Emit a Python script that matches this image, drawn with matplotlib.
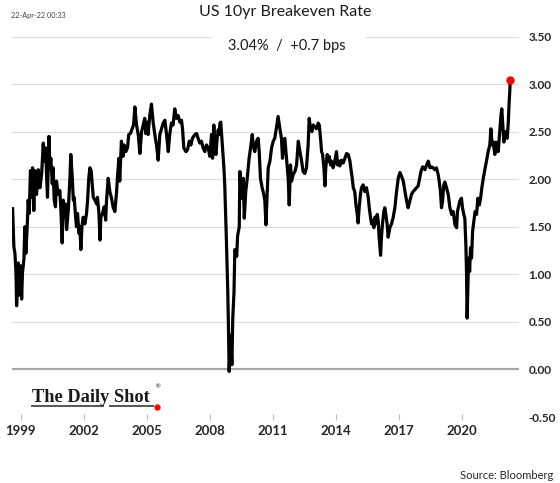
import numpy as np
import matplotlib as mpl
mpl.use('Agg')
import matplotlib.pyplot as plt
from matplotlib.lines import Line2D

# US 10yr breakeven rate (year as decimal, value in %)
dates = [
    1998.62, 1998.68, 1998.73, 1998.78, 1998.81, 1998.89, 1998.93, 1999.00, 1999.05, 1999.09,
    1999.16, 1999.20, 1999.25, 1999.32, 1999.36, 1999.41, 1999.47, 1999.52, 1999.57, 1999.63,
    1999.68, 1999.76, 1999.84, 1999.92, 2000.00, 2000.08, 2000.12, 2000.19, 2000.24, 2000.28,
    2000.35, 2000.39, 2000.44, 2000.51, 2000.55, 2000.60, 2000.66, 2000.71, 2000.79, 2000.87,
    2000.92, 2000.98, 2001.03, 2001.08, 2001.14, 2001.19, 2001.27, 2001.35, 2001.39, 2001.46,
    2001.51, 2001.55, 2001.62, 2001.66, 2001.71, 2001.78, 2001.82, 2001.87, 2001.92, 2001.98,
    2002.06, 2002.14, 2002.19, 2002.25, 2002.30, 2002.36, 2002.41, 2002.46, 2002.54, 2002.62,
    2002.66, 2002.73, 2002.78, 2002.82, 2002.90, 2002.98, 2003.05,
    2003.09, 2003.17, 2003.25, 2003.33, 2003.41, 2003.49, 2003.57, 2003.61, 2003.68, 2003.72,
    2003.80, 2003.88, 2003.93, 2004.01, 2004.09, 2004.15, 2004.23, 2004.31, 2004.38, 2004.44,
    2004.52, 2004.60, 2004.68, 2004.76, 2004.84, 2004.91, 2004.96, 2005.03, 2005.07, 2005.15,
    2005.23, 2005.31, 2005.39, 2005.47, 2005.55, 2005.63, 2005.71, 2005.79, 2005.87, 2005.95,
    2006.03, 2006.10, 2006.18, 2006.26, 2006.34, 2006.42, 2006.50, 2006.58, 2006.66, 2006.71,
    2006.77, 2006.87, 2006.95, 2007.03, 2007.11, 2007.18, 2007.30, 2007.38, 2007.45, 2007.53,
    2007.61, 2007.69, 2007.77, 2007.85, 2007.93, 2008.01,
    2008.09, 2008.14, 2008.20, 2008.25, 2008.30, 2008.36, 2008.41, 2008.45, 2008.49, 2008.53,
    2008.57, 2008.61, 2008.68, 2008.72, 2008.77, 2008.80, 2008.84, 2008.86, 2008.89, 2008.93,
    2009.00, 2009.06, 2009.10, 2009.16, 2009.20, 2009.29, 2009.33, 2009.41,
    2009.44, 2009.52, 2009.60, 2009.65, 2009.72, 2009.79, 2009.88, 2009.95, 2010.03, 2010.07,
    2010.15, 2010.23, 2010.31, 2010.36, 2010.42, 2010.50, 2010.58, 2010.63, 2010.68, 2010.74,
    2010.79, 2010.87, 2010.95, 2011.03, 2011.10, 2011.18, 2011.26, 2011.34, 2011.42, 2011.47,
    2011.53, 2011.58, 2011.66, 2011.74, 2011.79, 2011.85, 2011.90, 2011.98, 2012.06, 2012.14,
    2012.22, 2012.30, 2012.38, 2012.45, 2012.53, 2012.61, 2012.69, 2012.74, 2012.80, 2012.87,
    2012.93,
    2013.09, 2013.17, 2013.22, 2013.28, 2013.33, 2013.38, 2013.44, 2013.49, 2013.53, 2013.60,
    2013.64, 2013.69, 2013.76, 2013.80, 2013.88, 2013.96, 2014.04, 2014.09, 2014.15, 2014.20,
    2014.28, 2014.36, 2014.44, 2014.52, 2014.60, 2014.68, 2014.72, 2014.79, 2014.84, 2014.91,
    2014.96, 2015.03, 2015.07, 2015.12, 2015.18, 2015.23, 2015.31, 2015.39, 2015.47, 2015.55,
    2015.60, 2015.66, 2015.71, 2015.76, 2015.82, 2015.87, 2015.91, 2015.98, 2016.03, 2016.07,
    2016.14, 2016.18, 2016.23, 2016.30, 2016.34, 2016.39, 2016.45, 2016.50, 2016.58, 2016.66,
    2016.74, 2016.82, 2016.90, 2016.98, 2017.06, 2017.14, 2017.22, 2017.30, 2017.38, 2017.45,
    2017.53, 2017.61, 2017.69, 2017.77, 2017.85, 2017.93,
    2018.06, 2018.14, 2018.20, 2018.25, 2018.33, 2018.41, 2018.49, 2018.57, 2018.64, 2018.72,
    2018.80, 2018.88, 2018.93, 2018.99, 2019.04, 2019.09, 2019.15, 2019.20, 2019.28, 2019.36,
    2019.44, 2019.52, 2019.60, 2019.68, 2019.76, 2019.80, 2019.87, 2019.91, 2019.99, 2020.04,
    2020.10, 2020.15, 2020.20, 2020.23, 2020.25, 2020.26, 2020.30, 2020.33, 2020.38, 2020.42,
    2020.47, 2020.52, 2020.58, 2020.64, 2020.71, 2020.77, 2020.84, 2020.90, 2020.96, 2021.03,
    2021.11, 2021.18, 2021.26, 2021.34, 2021.39, 2021.45, 2021.50, 2021.58, 2021.63, 2021.69,
    2021.74, 2021.82, 2021.87, 2021.91, 2021.96, 2022.01, 2022.06, 2022.11, 2022.17, 2022.22,
    2022.26, 2022.29, 2022.31,
]
rate = [
    1.69, 1.29, 1.22, 1.02, 0.67, 1.12, 0.78, 1.09, 0.74, 1.02,
    1.16, 1.50, 1.22, 1.53, 1.78, 1.64, 2.09, 1.81, 2.12, 1.67,
    2.09, 1.84, 2.10, 1.91, 2.05, 2.38, 2.19, 2.33, 2.02, 1.81,
    2.45, 2.12, 2.22, 1.95, 2.12, 1.78, 1.71, 1.98, 1.84, 1.88,
    1.67, 1.33, 1.78, 1.60, 1.74, 1.47, 1.67, 2.02, 2.26, 2.02,
    1.78, 1.81, 1.60, 1.50, 1.64, 1.43, 1.50, 1.26, 1.50, 1.60,
    1.53, 1.64, 1.78, 2.02, 2.12, 2.09, 1.95, 1.81, 1.78, 1.74,
    1.81, 1.64, 1.36, 1.60, 1.64, 1.71, 1.57,
    1.77, 2.01, 1.87, 1.80, 1.70, 1.66, 1.87, 2.01, 2.22, 1.98,
    2.40, 2.24, 2.36, 2.29, 2.33, 2.47, 2.48, 2.53, 2.57, 2.76,
    2.57, 2.47, 2.27, 2.50, 2.57, 2.64, 2.48, 2.60, 2.47, 2.67,
    2.79, 2.60, 2.47, 2.36, 2.20, 2.47, 2.53, 2.59, 2.62, 2.47,
    2.29, 2.47, 2.59, 2.57, 2.74, 2.64, 2.67, 2.60, 2.62, 2.53,
    2.33, 2.29, 2.31, 2.40, 2.36, 2.43, 2.47, 2.48, 2.43, 2.38,
    2.40, 2.33, 2.29, 2.36, 2.33, 2.24,
    2.47, 2.22, 2.57, 2.33, 2.26, 2.43, 2.52, 2.47, 2.59, 2.60,
    2.47, 2.33, 2.12, 1.94, 1.59, 1.35, 1.04, 0.85, 0.53, -0.02,
    0.36, 0.05, 0.53, 0.81, 1.26, 1.19, 1.40, 1.50,
    2.08, 1.80, 2.01, 1.59, 1.87, 2.01, 2.22, 2.33, 2.47, 2.36,
    2.29, 2.40, 2.43, 2.29, 2.01, 1.91, 1.84, 1.77, 1.52, 1.84,
    2.12, 2.19, 2.33, 2.40, 2.43, 2.54, 2.66, 2.54, 2.43, 2.22,
    2.40, 2.43, 2.22, 2.01, 1.73, 2.15, 1.98, 2.05, 2.08, 2.15,
    2.40, 2.29, 2.19, 2.08, 2.06, 2.12, 2.36, 2.64, 2.54, 2.50,
    2.57,
    2.53, 2.59, 2.57, 2.43, 2.29, 2.26, 2.12, 1.93, 2.12, 2.26,
    2.19, 2.24, 2.15, 2.19, 2.12, 2.19, 2.29, 2.15, 2.19, 2.14,
    2.20, 2.17, 2.22, 2.27, 2.26, 2.19, 2.12, 2.01, 1.91, 1.87,
    1.74, 1.63, 1.54, 1.70, 1.84, 1.91, 1.94, 1.87, 1.91, 1.81,
    1.70, 1.60, 1.53, 1.56, 1.49, 1.60, 1.53, 1.63, 1.56, 1.39,
    1.20, 1.39, 1.53, 1.67, 1.70, 1.63, 1.53, 1.39, 1.49, 1.53,
    1.60, 1.70, 1.87, 2.01, 2.07, 2.03, 1.98, 1.87, 1.77, 1.70,
    1.77, 1.84, 1.87, 1.89, 1.91, 1.93,
    2.08, 2.13, 2.12, 2.10, 2.15, 2.19, 2.12, 2.13, 2.12, 2.10,
    2.12, 2.05, 1.98, 1.87, 1.70, 1.77, 1.94, 1.97, 1.91, 1.84,
    1.70, 1.63, 1.66, 1.52, 1.49, 1.66, 1.73, 1.77, 1.80, 1.70,
    1.63, 1.59, 1.31, 1.03, 0.75, 0.54, 0.89, 1.17, 1.03, 1.28,
    1.17, 1.45, 1.56, 1.66, 1.63, 1.80, 1.73, 1.80, 1.91, 2.01,
    2.11, 2.19, 2.29, 2.36, 2.53, 2.36, 2.39, 2.26, 2.39, 2.33,
    2.29, 2.53, 2.67, 2.74, 2.57, 2.39, 2.46, 2.50, 2.43, 2.60,
    2.81, 2.92, 3.04,
]

tick_years = [1999, 2002, 2005, 2008, 2011, 2014, 2017, 2020]
tick_labels = ['1999', '2002', '2005', '2008', '2011', '2014', '2017', '2020']
y_levels = [-0.5, 0.0, 0.5, 1.0, 1.5, 2.0, 2.5, 3.0, 3.5]

last_value = '3.04%'
change = '+0.7 bps'

plt.rcParams['font.family'] = ['Lato', 'DejaVu Sans']

fig = plt.figure(figsize=(5.6, 4.83), dpi=100)
ax = fig.add_axes([0.0214, 0.1366, 0.9054, 0.7878])

# horizontal grid; the top one is broken by the subtitle box
for v in y_levels:
    if v == 3.5:
        ax.axhline(v, xmax=0.394, color='#dcdcdc', lw=0.8, zorder=0)
        ax.axhline(v, xmin=0.698, color='#dcdcdc', lw=0.8, zorder=0)
    elif v == 0.0:
        ax.axhline(v, color='#a6a6a6', lw=1.6, zorder=1)
    else:
        ax.axhline(v, color='#dcdcdc', lw=0.8, zorder=0)

ax.plot(dates, rate, color='black', lw=2.3, zorder=3)
ax.plot(dates[-1], rate[-1], 'o', color='red', ms=5, zorder=4)

ax.set_xlim(1998.59, 2022.73)
ax.set_ylim(-0.5, 3.5)
for s in ax.spines.values():
    s.set_visible(False)

ax.set_xticks(tick_years)
ax.set_xticklabels(tick_labels, fontsize=9.5, fontweight='bold', color='#262626')
ax.tick_params(axis='x', direction='inout', length=5, width=0.8, color='#bfbfbf', pad=3)

ax.yaxis.tick_right()
ax.set_yticks(y_levels)
ax.set_yticklabels(['%.2f' % v for v in y_levels], fontsize=8.5, fontweight='bold', color='#262626')
ax.tick_params(axis='y', length=0, pad=7)

fig.text(0.51, 0.975, 'US 10yr Breakeven Rate', ha='center', va='center', fontsize=11.5, color='#1a1a1a')
fig.text(0.513, 0.905, last_value + '  /  ' + change, ha='center', va='center', fontsize=10.5, color='#1a1a1a')
fig.text(0.02, 0.967, '22-Apr-22 00:33', ha='left', va='center', fontsize=5.2, color='#404040')

# logo
fig.text(0.057, 0.168, 'The Daily Shot', ha='left', va='baseline', fontsize=13.2,
         family='Liberation Serif', fontweight='bold', color='#1a1a1a')
fig.text(0.276, 0.196, '®', ha='left', va='baseline', fontsize=4.5, family='DejaVu Sans', color='#1a1a1a')
fig.add_artist(Line2D([0.057, 0.184], [0.160, 0.160], color='#555555', lw=1.4))
fig.add_artist(Line2D([0.196, 0.274], [0.160, 0.160], color='#555555', lw=1.4))
fig.add_artist(Line2D([0.280], [0.157], marker='o', color='red', ms=3.5))

fig.text(0.9875, 0.0145, 'Source: Bloomberg', ha='right', va='center', fontsize=8, color='#262626')

fig.savefig('out.png', dpi=100)
